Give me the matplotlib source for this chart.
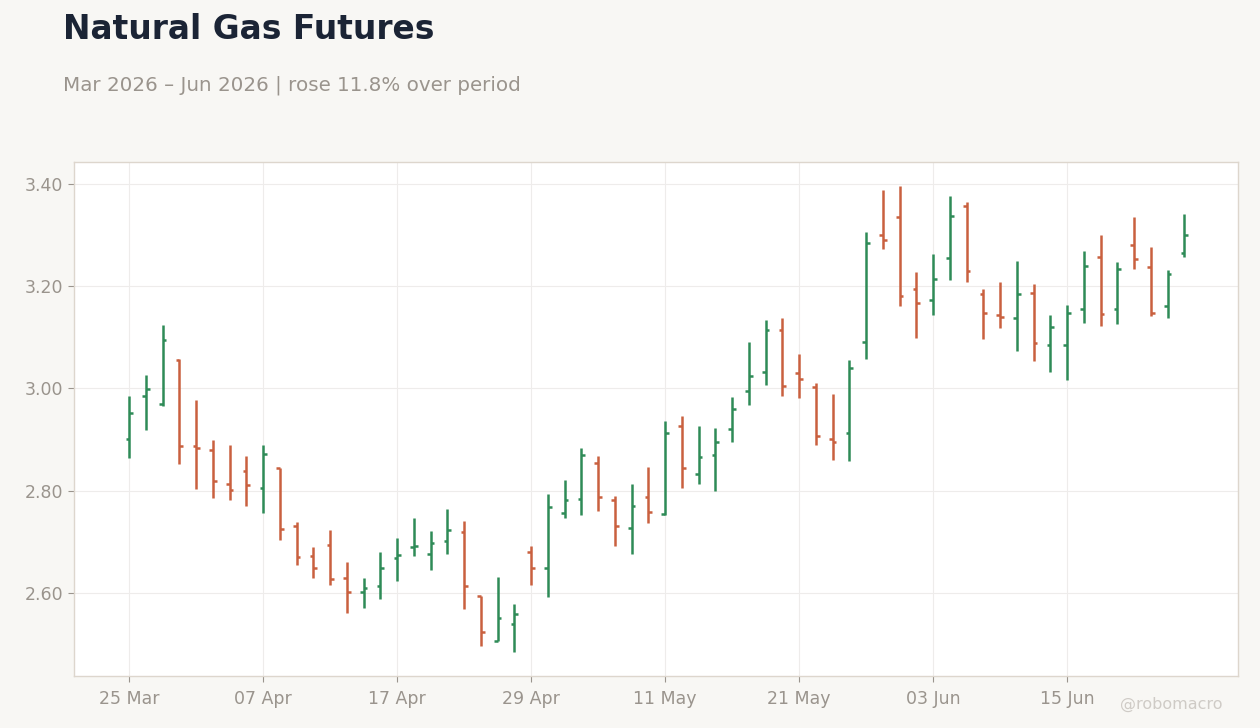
import matplotlib
matplotlib.use("Agg")
import matplotlib.pyplot as plt
import pandas as pd

# daily OHLC (trading days from 25 Mar 2026)
opens = [2.902, 2.986, 2.970, 3.056, 2.888, 2.880, 2.814, 2.839, 2.806, 2.845,
         2.732, 2.673, 2.693, 2.630, 2.601, 2.614, 2.669, 2.689, 2.677, 2.702,
         2.720, 2.595, 2.507, 2.540, 2.681, 2.649, 2.757, 2.784, 2.854, 2.782,
         2.728, 2.788, 2.754, 2.927, 2.833, 2.869, 2.921, 2.996, 3.033, 3.115,
         3.031, 3.002, 2.902, 2.912, 3.090, 3.301, 3.336, 3.195, 3.174, 3.256,
         3.356, 3.185, 3.144, 3.138, 3.187, 3.086, 3.086, 3.156, 3.258, 3.156,
         3.281, 3.238, 3.162, 3.264]
highs = [2.985, 3.026, 3.124, 3.057, 2.977, 2.899, 2.889, 2.868, 2.889, 2.845,
         2.739, 2.690, 2.723, 2.661, 2.629, 2.680, 2.708, 2.747, 2.721, 2.764,
         2.741, 2.595, 2.631, 2.578, 2.692, 2.794, 2.821, 2.884, 2.868, 2.790,
         2.813, 2.846, 2.936, 2.946, 2.927, 2.923, 2.983, 3.091, 3.134, 3.138,
         3.067, 3.011, 2.989, 3.056, 3.306, 3.388, 3.396, 3.228, 3.263, 3.377,
         3.365, 3.195, 3.208, 3.249, 3.204, 3.144, 3.163, 3.269, 3.300, 3.247,
         3.335, 3.277, 3.232, 3.341]
lows = [2.864, 2.919, 2.966, 2.853, 2.804, 2.786, 2.781, 2.771, 2.757, 2.703,
        2.655, 2.630, 2.616, 2.561, 2.571, 2.589, 2.624, 2.673, 2.644, 2.677,
        2.569, 2.497, 2.507, 2.484, 2.616, 2.593, 2.747, 2.753, 2.761, 2.691,
        2.677, 2.736, 2.753, 2.806, 2.814, 2.800, 2.896, 2.968, 3.007, 2.986,
        2.982, 2.890, 2.861, 2.859, 3.058, 3.273, 3.162, 3.099, 3.144, 3.213,
        3.209, 3.097, 3.119, 3.074, 3.054, 3.033, 3.017, 3.129, 3.123, 3.127,
        3.234, 3.142, 3.137, 3.258]
closes = [2.953, 2.999, 3.095, 2.888, 2.884, 2.820, 2.802, 2.812, 2.871, 2.725,
          2.671, 2.649, 2.628, 2.601, 2.610, 2.648, 2.675, 2.691, 2.698, 2.724,
          2.614, 2.524, 2.552, 2.559, 2.648, 2.769, 2.781, 2.869, 2.788, 2.732,
          2.771, 2.759, 2.912, 2.845, 2.865, 2.896, 2.960, 3.025, 3.115, 3.005,
          3.019, 2.908, 2.896, 3.041, 3.285, 3.290, 3.180, 3.168, 3.215, 3.338,
          3.230, 3.148, 3.140, 3.185, 3.088, 3.121, 3.148, 3.240, 3.146, 3.234,
          3.254, 3.148, 3.223, 3.301]

holidays = ["2026-04-03", "2026-05-25", "2026-06-19"]
dates = pd.bdate_range("2026-03-25", periods=len(opens), freq="C", holidays=holidays)

up_col = "#2e8b57"
down_col = "#c9603f"
bg = "#f8f7f4"

fig = plt.figure(figsize=(12.6, 7.28), dpi=100, facecolor=bg)
ax = fig.add_axes([0.0587, 0.0714, 0.9238, 0.7061])
ax.set_facecolor("white")

x = list(range(len(opens)))
cols = [up_col if c >= o else down_col for o, c in zip(opens, closes)]
w = 0.22
ax.vlines(x, lows, highs, colors=cols, linewidth=1.8, zorder=3)
ax.hlines(opens, [i - w for i in x], x, colors=cols, linewidth=1.8, zorder=3)
ax.hlines(closes, x, [i + w for i in x], colors=cols, linewidth=1.8, zorder=3)

ax.set_xlim(-3.3, 66.2)
ax.set_ylim(2.4376, 3.443)
tick_idx = x[::8]
ax.set_xticks(tick_idx)
ax.set_xticklabels([dates[i].strftime("%d %b") for i in tick_idx])
ax.set_yticks([2.6, 2.8, 3.0, 3.2, 3.4])
ax.set_yticklabels(["2.60", "2.80", "3.00", "3.20", "3.40"])
ax.tick_params(colors="#9a948d", labelsize=12.5, length=4, width=0.8)
ax.tick_params(axis="x", pad=6)
ax.grid(True, color="#eeeceb", linewidth=0.8, zorder=0)
for s in ax.spines.values():
    s.set_color("#ddd6cd")
    s.set_linewidth(1)

fig.text(0.05, 0.959, "Natural Gas Futures", fontsize=23.7, fontweight="bold",
         color="#1b2435", va="center", ha="left")
fig.text(0.05, 0.883, "Mar 2026 \u2013 Jun 2026 | rose 11.8% over period",
         fontsize=14.3, color="#9a948d", va="center", ha="left")
fig.text(0.97, 0.032, "@robomacro", fontsize=11.5, color="#cfcbc6",
         va="center", ha="right")

fig.savefig("out.png", dpi=100, facecolor=bg)
